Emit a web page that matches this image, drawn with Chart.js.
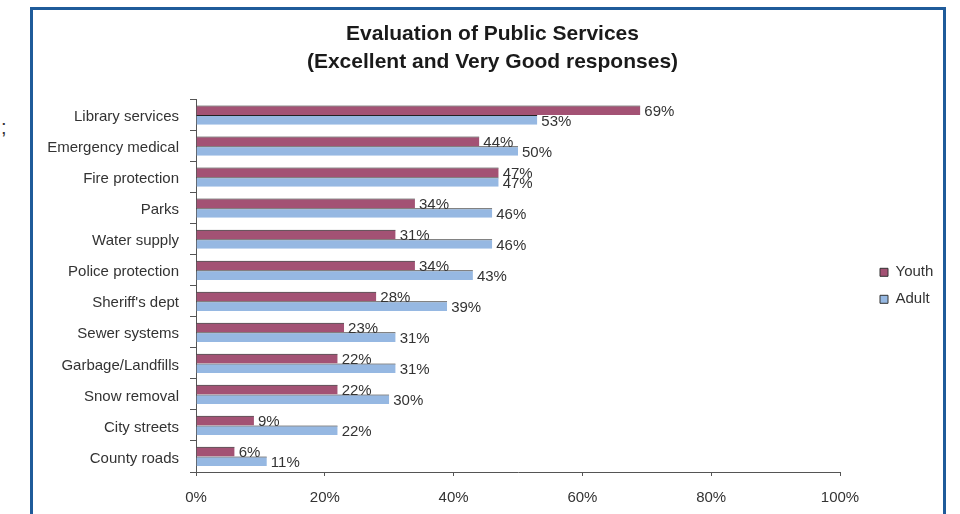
<!DOCTYPE html>
<html>
<head>
<meta charset="utf-8">
<script src="https://cdn.jsdelivr.net/npm/chart.js@4/dist/chart.umd.min.js"></script>
<style>
  body { margin: 0; background: #fff; width: 960px; height: 514px; overflow: hidden; position: relative; }
  #frame { position: absolute; left: 30px; top: 7px; width: 910px; height: 540px; border: 3px solid #1f5b9a; }
  #semi { position: absolute; left: 1px; top: 116px; font: 20px "Liberation Sans", Arial, sans-serif; color: #333; }
  #chart { position: absolute; left: 0; top: 0; }
</style>
</head>
<body>
<div id="frame"></div>
<span id="semi">;</span>
<canvas id="chart" width="960" height="514"></canvas>
<script>
/* data */
const services = [
  'Library services', 'Emergency medical', 'Fire protection', 'Parks',
  'Water supply', 'Police protection', "Sheriff's dept", 'Sewer systems',
  'Garbage/Landfills', 'Snow removal', 'City streets', 'County roads'
];
const youth = [69, 44, 47, 34, 31, 34, 28, 23, 22, 22, 9, 6];
const adult = [53, 50, 47, 46, 46, 43, 39, 31, 31, 30, 22, 11];
const titleLines = ['Evaluation of Public Services', '(Excellent and Very Good responses)'];

const FONT = '"Liberation Sans", Arial, sans-serif';

// value labels at the end of each bar
const barLabels = {
  id: 'barLabels',
  afterDatasetsDraw(chart) {
    const ctx = chart.ctx;
    ctx.save();
    ctx.font = '15px ' + FONT;
    ctx.fillStyle = '#333';
    ctx.textAlign = 'left';
    ctx.textBaseline = 'middle';
    chart.data.datasets.forEach((ds, i) => {
      chart.getDatasetMeta(i).data.forEach((bar, j) => {
        ctx.fillText(ds.data[j] + '%', bar.x + 4, bar.y + 1.5);
      });
    });
    ctx.restore();
  }
};

// push legend a bit away from the plot
const legendShift = {
  id: 'legendShift',
  afterLayout(chart) {
    if (chart.legend) {
      chart.legend.left += 28;
      chart.legend.right += 28;
    }
  }
};

const chart = new Chart(document.getElementById('chart'), {
  type: 'bar',
  data: {
    labels: services,
    datasets: [{
      label: 'Youth',
      data: youth,
      backgroundColor: '#a35274',
      borderColor: '#222',
      borderWidth: { top: 1, right: 0, bottom: 0, left: 0 }
    }, {
      label: 'Adult',
      data: adult,
      backgroundColor: '#96b8e2',
      borderColor: '#222',
      borderWidth: { top: 1, right: 0, bottom: 0, left: 0 }
    }]
  },
  options: {
    indexAxis: 'y',
    responsive: false,
    animation: false,
    devicePixelRatio: 1,
    layout: { padding: { top: 0, left: 35, right: 10, bottom: 0 } },
    datasets: { bar: { barPercentage: 1, categoryPercentage: 0.62 } },
    scales: {
      x: {
        min: 0, max: 100,
        ticks: {
          stepSize: 20,
          callback: v => v + '%',
          color: '#333',
          font: { size: 15, family: FONT },
          padding: 13,
          maxRotation: 0
        },
        grid: { display: true, drawOnChartArea: false, tickLength: 4, color: '#555' },
        border: { color: '#555' },
        afterFit(s) { s.height = 42; s.paddingRight = 120; }
      },
      y: {
        ticks: {
          color: '#333',
          font: { size: 15, family: FONT },
          padding: 11,
          labelOffset: 2,
          autoSkip: false
        },
        grid: { display: true, drawOnChartArea: false, offset: true, tickLength: 6, color: '#555' },
        border: { color: '#555' },
        afterFit(s) { s.width = 161; }
      }
    },
    plugins: {
      title: {
        display: true,
        text: titleLines,
        color: '#1a1a1a',
        font: { size: 21, weight: 'bold', family: FONT, lineHeight: 1.3 },
        padding: { top: 21, bottom: 24 }
      },
      legend: {
        position: 'right',
        fullSize: false,
        labels: {
          boxWidth: 8,
          boxHeight: 8,
          padding: 12,
          color: '#333',
          font: { size: 15, family: FONT },
          generateLabels(ch) {
            return ch.data.datasets.map((ds, i) => ({
              text: ds.label,
              fillStyle: ds.backgroundColor,
              strokeStyle: '#333',
              lineWidth: 1,
              fontColor: '#333',
              datasetIndex: i,
              hidden: false
            }));
          }
        }
      },
      tooltip: { enabled: false }
    }
  },
  plugins: [barLabels, legendShift]
});
</script>
</body>
</html>
